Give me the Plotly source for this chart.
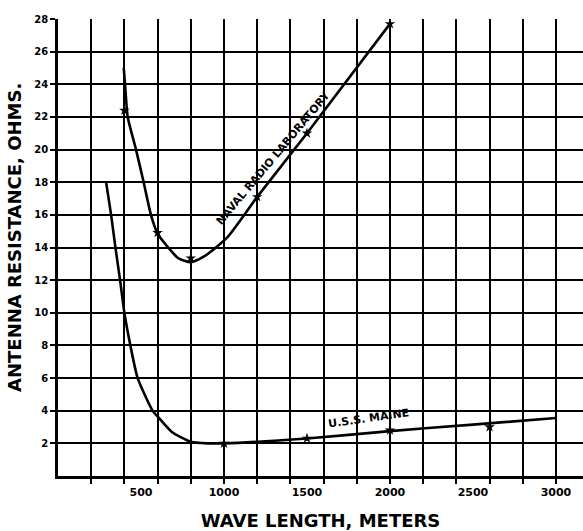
import plotly.graph_objects as go

# Naval Radio Laboratory curve
naval_curve_x = [396, 404, 420, 470, 516, 560, 600, 664, 724, 800, 880, 1018, 1200, 1500, 2000]
naval_curve_y = [25.0, 24.0, 22.0, 20.0, 18.0, 16.0, 14.85, 14.0, 13.35, 13.1, 13.45, 14.6, 17.1, 21.0, 27.7]
naval_pts_x = [400, 600, 800, 1200, 1500, 2000]
naval_pts_y = [22.4, 14.9, 13.35, 17.1, 21.0, 27.7]

# U.S.S. Maine curve
maine_curve_x = [290, 320, 346, 374, 400, 436, 480, 570, 600, 686, 800, 900, 1000, 1500, 2000, 2500, 3000]
maine_curve_y = [18.0, 16.0, 14.0, 12.0, 10.0, 8.0, 6.0, 4.0, 3.65, 2.7, 2.1, 2.0, 2.0, 2.3, 2.75, 3.15, 3.55]
maine_pts_x = [1000, 1500, 2000, 2600]
maine_pts_y = [2.0, 2.3, 2.8, 3.0]

x_grid = list(range(200, 3001, 200))
x_label_vals = [500, 1000, 1500, 2000, 2500, 3000]
x_label_text = ["500", "1000", "1500", "2000", "2500", "3000"]
y_vals = list(range(2, 29, 2))
y_text = [str(v) for v in y_vals]

XR = [0, 3163]
YR = [0, 28]
FONT = "DejaVu Sans"

fig = go.Figure()
fig.add_trace(go.Scatter(x=naval_curve_x, y=naval_curve_y, mode="lines",
                         line=dict(color="black", width=2.6, shape="spline", smoothing=0.6),
                         hoverinfo="skip"))
fig.add_trace(go.Scatter(x=maine_curve_x, y=maine_curve_y, mode="lines",
                         line=dict(color="black", width=2.6, shape="spline", smoothing=0.6),
                         hoverinfo="skip"))
fig.add_trace(go.Scatter(x=naval_pts_x, y=naval_pts_y, mode="markers",
                         marker=dict(symbol="star", size=8, color="black")))
fig.add_trace(go.Scatter(x=maine_pts_x, y=maine_pts_y, mode="markers",
                         marker=dict(symbol="star", size=8, color="black")))
# dummy trace for the label axis
fig.add_trace(go.Scatter(x=[XR[0]], y=[YR[0]], xaxis="x2", mode="markers",
                         marker=dict(opacity=0), hoverinfo="skip"))

fig.add_annotation(x=1300, y=19.5, text="NAVAL RADIO LABORATORY", showarrow=False,
                   textangle=-50, font=dict(family=FONT, size=11, color="black", weight="bold"))
fig.add_annotation(x=1870, y=3.5, text="U.S.S. MAINE", showarrow=False,
                   textangle=-8, font=dict(family=FONT, size=11, color="black", weight="bold"))
fig.add_annotation(xref="paper", yref="paper", x=-0.082, y=0.523,
                   text="ANTENNA RESISTANCE, OHMS.", showarrow=False, textangle=-90,
                   xanchor="center", yanchor="middle",
                   font=dict(family=FONT, size=18, color="black", weight="bold"))

fig.update_layout(
    width=583, height=531,
    margin=dict(l=58, r=0, t=19, b=55),
    paper_bgcolor="white", plot_bgcolor="white",
    showlegend=False,
    xaxis=dict(range=XR, tickmode="array", tickvals=x_grid, showticklabels=False,
               showgrid=True, gridcolor="black", gridwidth=2, automargin=False,
               ticks="outside", ticklen=5, tickwidth=2, tickcolor="black",
               showline=True, linecolor="black", linewidth=2.5, zeroline=False),
    xaxis2=dict(range=XR, overlaying="x", side="bottom", tickmode="array",
                tickvals=x_label_vals, ticktext=x_label_text, showgrid=False, automargin=False,
                ticks="outside", ticklen=6, tickcolor="rgba(0,0,0,0)", zeroline=False, showline=False,
                tickfont=dict(family=FONT, size=11, color="black", weight="bold"),
                title=dict(text="WAVE LENGTH, METERS", standoff=22,
                           font=dict(family=FONT, size=18, color="black", weight="bold"))),
    yaxis=dict(range=YR, tickmode="array", tickvals=y_vals, ticktext=y_text, automargin=False,
               showgrid=True, gridcolor="black", gridwidth=2,
               ticks="outside", ticklen=5, tickwidth=2, tickcolor="black",
               showline=True, linecolor="black", linewidth=2.5, zeroline=False,
               tickfont=dict(family=FONT, size=10, color="black", weight="bold")),
)

fig.write_html("out.html", config={"displayModeBar": False},
               post_script="document.body.style.margin='0';")
